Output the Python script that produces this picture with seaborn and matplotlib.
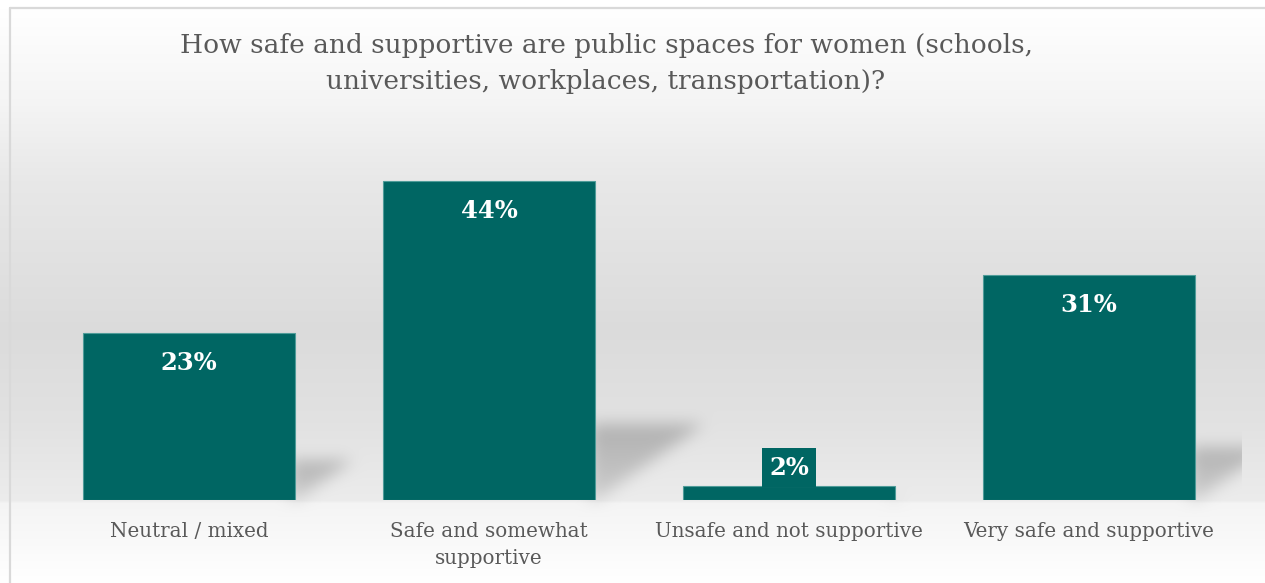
import numpy as np
import pandas as pd
import matplotlib
matplotlib.use("Agg")
import matplotlib.pyplot as plt
import seaborn as sns

# Survey results
categories = [
    "Neutral / mixed",
    "Safe and somewhat\nsupportive",
    "Unsafe and not supportive",
    "Very safe and supportive",
]
shares = [23, 44, 2, 31]
value_labels = ["23%", "44%", "2%", "31%"]
title = ("How safe and supportive are public spaces for women (schools,\n"
         "universities, workplaces, transportation)?")

W, H, DPI = 1265, 583, 100
TEAL = "#006663"
EDGE = "#4f9c99"
TEXT = "#595959"

sns.set_theme(style="white")
plt.rcParams["font.family"] = ["DejaVu Serif"]

fig = plt.figure(figsize=(W / DPI, H / DPI), dpi=DPI)
bg_ax = fig.add_axes([0, 0, 1, 1], zorder=0)
ax = fig.add_axes([39 / W, 83 / H, 1200 / W, 362.5 / H], zorder=1)
ax.set_facecolor("none")

df = pd.DataFrame({"category": categories, "share": shares})
sns.barplot(data=df, x="category", y="share", color=TEAL, saturation=1,
            width=0.707, edgecolor=EDGE, linewidth=0.8, ax=ax)
ax.set_xlim(-0.5, len(categories) - 0.5)
ax.set_ylim(0, 50)
ax.set_xlabel("")
ax.set_ylabel("")
ax.set_yticks([])
for sp in ax.spines.values():
    sp.set_visible(False)
ax.tick_params(axis="x", length=0, pad=15.5, labelsize=14.3, labelcolor=TEXT)
for lbl in ax.get_xticklabels():
    lbl.set_linespacing(1.55)

# Value labels: inside the bar, or in a small tab above very short bars
for patch, lab, v in zip(ax.patches, value_labels, shares):
    cx = patch.get_x() + patch.get_width() / 2
    if v >= 5:
        ax.annotate(lab, (cx, v), xytext=(0, -21.5), textcoords="offset points",
                    ha="center", va="center", color="white",
                    fontweight="bold", fontsize=17.5)
    else:
        ax.annotate(lab, (cx, v), xytext=(0, 4.2), textcoords="offset points",
                    ha="center", va="bottom", color="white",
                    fontweight="bold", fontsize=17.5,
                    bbox=dict(boxstyle="square,pad=0.3", fc=TEAL, ec="none"))

# Background: soft vertical gradient with a lighter floor under the bars
rows = np.arange(H)
stops_y = [0, 8, 100, 180, 330, 420, 500, 503, 583]
stops_v = [1.0, 1.0, 0.96, 0.91, 0.86, 0.885, 0.925, 0.958, 1.0]
col = np.interp(rows, stops_y, stops_v)
img = np.repeat(col[:, None], W, axis=1)

# Floor shadows cast to the right of each bar
fig.canvas.draw()
shadow = np.zeros((H, W))
yy, xx = np.mgrid[0:H, 0:W]
ax_x1 = ax.transAxes.transform((1, 0))[0]
for patch in ax.patches:
    (x0, y0) = ax.transData.transform((patch.get_x(), 0))
    (x1, y1) = ax.transData.transform((patch.get_x() + patch.get_width(), patch.get_height()))
    xr = x1
    yb = H - y0
    h = y1 - y0
    s = 0.24 * h
    d = 0.34 * h
    t = (yb - yy) / max(s, 1)
    inside = (t >= 0) & (t <= 1) & (xx >= xr - 6) & (xx <= xr + d * t)
    shadow = np.maximum(shadow, inside * (0.6 + 0.4 * t))


def box_blur(a, r):
    k = 2 * r + 1
    p = np.pad(a, ((r, r), (0, 0)), mode="edge")
    c = np.cumsum(np.vstack([np.zeros((1, p.shape[1])), p]), axis=0)
    a = (c[k:] - c[:-k]) / k
    p = np.pad(a, ((0, 0), (r, r)), mode="edge")
    c = np.cumsum(np.hstack([np.zeros((p.shape[0], 1)), p]), axis=1)
    return (c[:, k:] - c[:, :-k]) / k


for _ in range(3):
    shadow = box_blur(shadow, 7)
shadow[:, int(ax_x1) + 3:] = 0
img = img * (1 - 0.22 * shadow)

bg_ax.imshow(np.dstack([img] * 3), extent=(0, W, H, 0), aspect="auto",
             interpolation="bilinear")
bg_ax.plot([10, 10], [8, H], color="#d9d9d9", lw=1.6)
bg_ax.plot([10, W], [8, 8], color="#d9d9d9", lw=1.6)
bg_ax.set_xlim(0, W)
bg_ax.set_ylim(H, 0)
bg_ax.axis("off")

fig.text(606 / W, 1 - 33 / H, title, ha="center", va="top", fontsize=19,
         color=TEXT, linespacing=1.55)

fig.savefig("out.png", dpi=DPI)
